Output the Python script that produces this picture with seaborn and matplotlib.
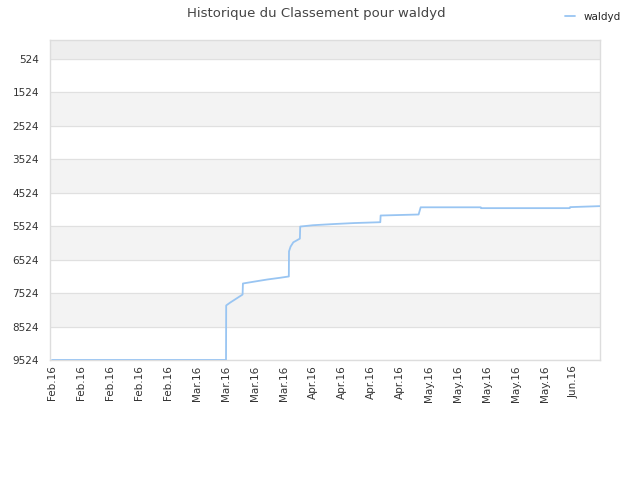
import numpy as np
import pandas as pd
import matplotlib
matplotlib.use("Agg")
import matplotlib.pyplot as plt
import matplotlib.dates as mdates
import seaborn as sns

# rank history (lower rank = better, axis inverted)
times = ["2016-02-01 00:00", "2016-03-14 00:00", "2016-03-14 01:00", "2016-03-15 00:00",
         "2016-03-16 12:00", "2016-03-18 00:00", "2016-03-18 02:00", "2016-03-21 00:00",
         "2016-03-24 00:00", "2016-03-27 00:00", "2016-03-29 04:00", "2016-03-29 05:00",
         "2016-03-29 14:00", "2016-03-30 06:00", "2016-03-31 20:00", "2016-03-31 22:00",
         "2016-04-04 00:00", "2016-04-09 00:00", "2016-04-14 00:00", "2016-04-20 06:00",
         "2016-04-20 08:00", "2016-04-29 12:00", "2016-04-30 00:00", "2016-05-14 12:00",
         "2016-05-14 14:00", "2016-06-05 00:00", "2016-06-05 02:00", "2016-06-12 06:00"]
ranks = [9524, 9524, 7895, 7810,
         7690, 7570, 7240, 7180,
         7120, 7070, 7030, 6280,
         6140, 6010, 5900, 5540,
         5500, 5465, 5435, 5410,
         5210, 5180, 4965, 4965,
         4990, 4990, 4960, 4930]
player = "waldyd"
ytick_values = [524, 1524, 2524, 3524, 4524, 5524, 6524, 7524, 8524, 9524]

df = pd.DataFrame({"date": pd.to_datetime(times), "rank": ranks})

sns.set_theme(style="white")
plt.rcParams['font.family'] = ['DejaVu Sans']

fig = plt.figure(figsize=(6.4, 4.8), dpi=100)
ax = fig.add_axes([50 / 640, 1 - 360 / 480, 550 / 640, 320 / 480])

# alternating bands
ax.axhspan(-30, ytick_values[0], color="#eeeeee", zorder=0)
for i in range(1, len(ytick_values) - 1, 2):
    ax.axhspan(ytick_values[i], ytick_values[i + 1], color="#f3f3f3", zorder=0)
for v in ytick_values:
    ax.axhline(v, color="#e0e0e0", lw=0.8, zorder=1)

sns.lineplot(data=df, x="date", y="rank", ax=ax, color="#99c5f2", lw=1.3,
             estimator=None, sort=False, label=player, legend=False, zorder=3)

start = pd.Timestamp("2016-02-01")
ax.set_xlim(start - pd.Timedelta(hours=12), start + pd.Timedelta(days=132.3))
ax.set_ylim(9524, -30)
ax.set_yticks(ytick_values)
ax.set_yticklabels([str(v) for v in ytick_values])
ax.xaxis.set_major_locator(mdates.WeekdayLocator(byweekday=mdates.MO))
ax.xaxis.set_major_formatter(mdates.DateFormatter("%b.%y"))
ax.tick_params(axis="x", rotation=90, labelsize=7.5, colors="#333333", length=0, pad=4)
ax.tick_params(axis="y", labelsize=7.5, colors="#333333", length=0, pad=8)
ax.set_xlabel("")
ax.set_ylabel("")
for s in ax.spines.values():
    s.set_color("#dddddd")
    s.set_linewidth(1)

fig.suptitle("Historique du Classement pour waldyd", x=0.495, y=0.985,
             fontsize=9.5, color="#444444")
handles, labels = ax.get_legend_handles_labels()
fig.legend(handles, labels, loc="upper right", bbox_to_anchor=(0.985, 0.995),
           frameon=False, fontsize=7.5, handlelength=1.0, handletextpad=0.8)

fig.savefig("out.png", dpi=100)
